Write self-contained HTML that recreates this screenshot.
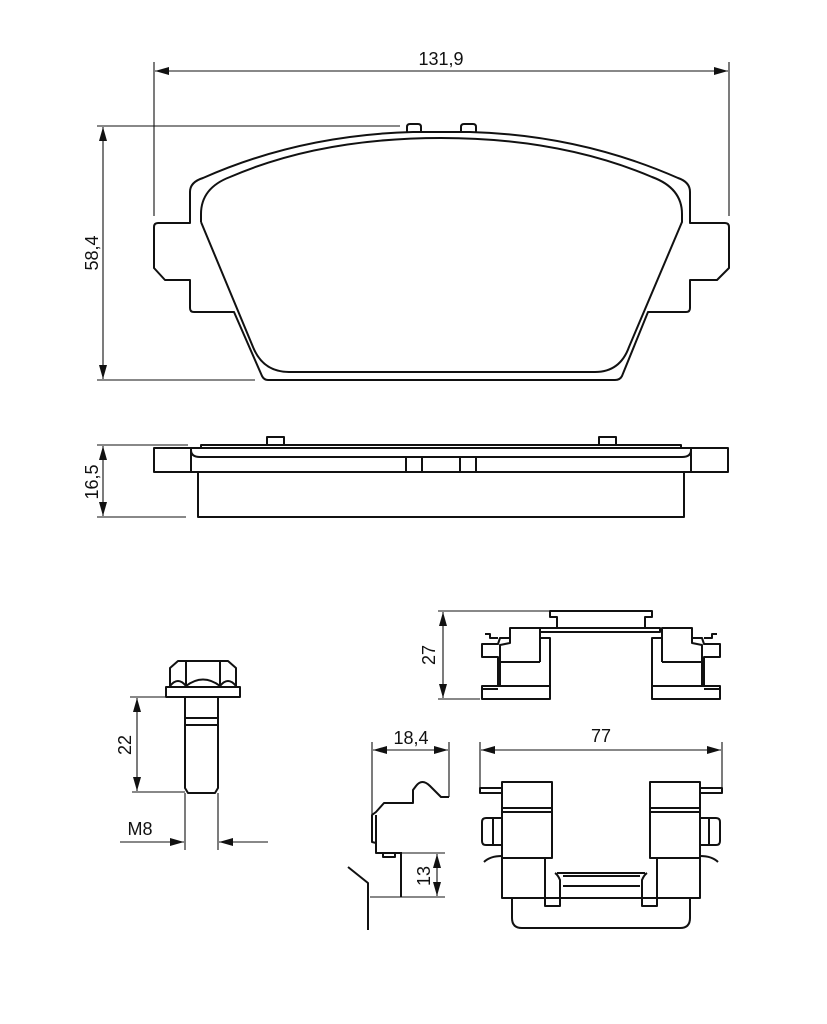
<!DOCTYPE html>
<html><head><meta charset="utf-8"><style>
html,body{margin:0;padding:0;background:#fff;}
svg{display:block;}
text{font-family:"Liberation Sans",sans-serif;font-size:18px;fill:#111;}
</style></head><body>
<svg width="827" height="1024" viewBox="0 0 827 1024" xmlns="http://www.w3.org/2000/svg">
<defs>
<marker id="a" viewBox="0 0 14 8" refX="14" refY="4" markerWidth="14" markerHeight="8" markerUnits="userSpaceOnUse" orient="auto-start-reverse"><path d="M0,0 L14,4 L0,8 z" fill="#111"/></marker>
</defs>
<g fill="none" stroke="#111" stroke-width="1.1">
<line x1="154" y1="62" x2="154" y2="216"/>
<line x1="729" y1="62" x2="729" y2="216"/>
<line x1="155" y1="71" x2="728" y2="71" marker-start="url(#a)" marker-end="url(#a)"/>
<line x1="97" y1="126" x2="400" y2="126"/>
<line x1="97" y1="380" x2="255" y2="380"/>
<line x1="103" y1="127" x2="103" y2="379" marker-start="url(#a)" marker-end="url(#a)"/>
<line x1="97" y1="445" x2="188" y2="445"/>
<line x1="97" y1="517" x2="186" y2="517"/>
<line x1="103" y1="446" x2="103" y2="516" marker-start="url(#a)" marker-end="url(#a)"/>
<line x1="438" y1="611" x2="550" y2="611"/>
<line x1="438" y1="699" x2="480" y2="699"/>
<line x1="443" y1="612" x2="443" y2="698" marker-start="url(#a)" marker-end="url(#a)"/>
<line x1="480" y1="742" x2="480" y2="792"/>
<line x1="722" y1="742" x2="722" y2="792"/>
<line x1="481" y1="750" x2="721" y2="750" marker-start="url(#a)" marker-end="url(#a)"/>
<line x1="372" y1="742" x2="372" y2="815"/>
<line x1="449" y1="742" x2="449" y2="797"/>
<line x1="373" y1="750" x2="448" y2="750" marker-start="url(#a)" marker-end="url(#a)"/>
<line x1="400" y1="853" x2="445" y2="853"/>
<line x1="370" y1="897" x2="445" y2="897"/>
<line x1="437" y1="854" x2="437" y2="896" marker-start="url(#a)" marker-end="url(#a)"/>
<line x1="130" y1="697" x2="165" y2="697"/>
<line x1="132" y1="792" x2="185" y2="792"/>
<line x1="137" y1="698" x2="137" y2="791" marker-start="url(#a)" marker-end="url(#a)"/>
<line x1="185" y1="793" x2="185" y2="850"/>
<line x1="218" y1="793" x2="218" y2="850"/>
<line x1="120" y1="842" x2="184" y2="842" marker-end="url(#a)"/>
<line x1="268" y1="842" x2="219" y2="842" marker-end="url(#a)"/>
</g>

<g fill="none" stroke="#111" stroke-width="2" stroke-linejoin="round">
<path d="M190,223 L190,192 Q190,182 203,178 Q300,135 413,132 L470,132 Q580,135 678,178 Q690,182 690,192 L690,223 L725,223 Q729,223 729,227 L729,268 L717,280 L690,280 L690,308 Q690,312 686,312 L648,312 L622,376 Q620,380 615,380 L268,380 Q264,380 262,376 L234,312 L194,312 Q190,312 190,308 L190,280 L165,280 L154,268 L154,227 Q154,223 158,223 Z"/>
<path d="M201,222 L201,214 Q201,188 230,177 Q320,138 441,138 Q560,138 652,177 Q682,188 682,214 L682,222 L629,347 Q620,372 595,372 L289,372 Q263,372 253,347 L201,222"/>
<path d="M407,132 L407,127 Q407,124 410,124 L418,124 Q421,124 421,127 L421,132"/>
<path d="M461,132 L461,127 Q461,124 464,124 L473,124 Q476,124 476,127 L476,132"/>

<rect x="154" y="448" width="574" height="24"/>
<line x1="191" y1="448" x2="191" y2="472"/>
<line x1="691" y1="448" x2="691" y2="472"/>
<path d="M201,448 L201,445 L681,445 L681,448"/>
<path d="M191,450 Q191,457 200,457 L682,457 Q691,457 691,450"/>
<rect x="267" y="437" width="17" height="8"/>
<rect x="599" y="437" width="17" height="8"/>
<line x1="406" y1="457" x2="406" y2="472"/>
<line x1="422" y1="457" x2="422" y2="472"/>
<line x1="460" y1="457" x2="460" y2="472"/>
<line x1="476" y1="457" x2="476" y2="472"/>
<rect x="198" y="472" width="486" height="45"/>

<path d="M170,687 L170,668 L178,661 L228,661 L236,668 L236,687"/>
<line x1="186" y1="661" x2="186" y2="687"/>
<line x1="220" y1="661" x2="220" y2="687"/>
<path d="M170,686 Q178,676 186,686 Q203,673 220,686 Q228,676 236,686"/>
<rect x="166" y="687" width="74" height="10"/>
<path d="M185,697 L185,788 L188,793 L215,793 L218,788 L218,697"/>
<line x1="185" y1="718" x2="218" y2="718"/>
<line x1="185" y1="725" x2="218" y2="725"/>

<path d="M550,611 L652,611 L652,617 L645,617 L645,628 L557,628 L557,617 L550,617 Z"/>
<rect x="540" y="628" width="120" height="4"/>
<g id="lc">
<path d="M510,638 L510,628 L540,628 L540,638 L550,638 L550,686 L498,686 L498,657 L482,657 L482,644 L498,644 L500,638 Z"/>
<path d="M510,638 L510,643 L500,645 L500,686"/>
<line x1="540" y1="638" x2="540" y2="662"/>
<line x1="500" y1="662" x2="540" y2="662"/>
<path d="M485,634 L490,634 L490,638 L498,638"/>
<rect x="482" y="686" width="68" height="13"/>
<line x1="482" y1="689" x2="498" y2="689"/>
</g>
<use href="#lc" transform="translate(1202,0) scale(-1,1)"/>

<g id="fc">
<rect x="502" y="782" width="50" height="76"/>
<line x1="502" y1="808" x2="552" y2="808"/>
<line x1="502" y1="812" x2="552" y2="812"/>
<rect x="480" y="788" width="22" height="5"/>
<path d="M502,818 L486,818 Q482,818 482,822 L482,841 Q482,845 486,845 L502,845"/>
<line x1="493" y1="818" x2="493" y2="845"/>
<path d="M484,862 Q490,856 502,856"/>
<path d="M502,858 L502,898 L545,898 L545,906 L560,906 L560,880 Q558,875 555,873"/>
<line x1="545" y1="858" x2="545" y2="898"/>
</g>
<use href="#fc" transform="translate(1202,0) scale(-1,1)"/>
<line x1="557" y1="873" x2="645" y2="873"/>
<line x1="563" y1="876" x2="640" y2="876"/>
<line x1="563" y1="886" x2="640" y2="886"/>
<path d="M512,898 L512,918 Q512,928 522,928 L680,928 Q690,928 690,918 L690,898"/>
<line x1="502" y1="898" x2="700" y2="898"/>

<path d="M449,797 L441,797 L430,786 Q422,778 416,786 L413,790 L413,803 L384,803 L376,812 L372,815 L372,842 L376,843 L376,853 L402,853"/>
<line x1="376" y1="815" x2="376" y2="843"/>
<rect x="383" y="853" width="12" height="4"/>
<line x1="401" y1="853" x2="401" y2="897"/>
<path d="M348,867 L368,883 L368,930"/>
</g>

<text x="441" y="65" text-anchor="middle">131,9</text>
<text x="411" y="744" text-anchor="middle">18,4</text>
<text x="601" y="742" text-anchor="middle">77</text>
<text x="140" y="835" text-anchor="middle">M8</text>
<text transform="translate(98,253) rotate(-90)" text-anchor="middle">58,4</text>
<text transform="translate(98,482) rotate(-90)" text-anchor="middle">16,5</text>
<text transform="translate(435,655) rotate(-90)" text-anchor="middle">27</text>
<text transform="translate(131,745) rotate(-90)" text-anchor="middle">22</text>
<text transform="translate(430,876) rotate(-90)" text-anchor="middle">13</text>
</svg>
</body></html>
